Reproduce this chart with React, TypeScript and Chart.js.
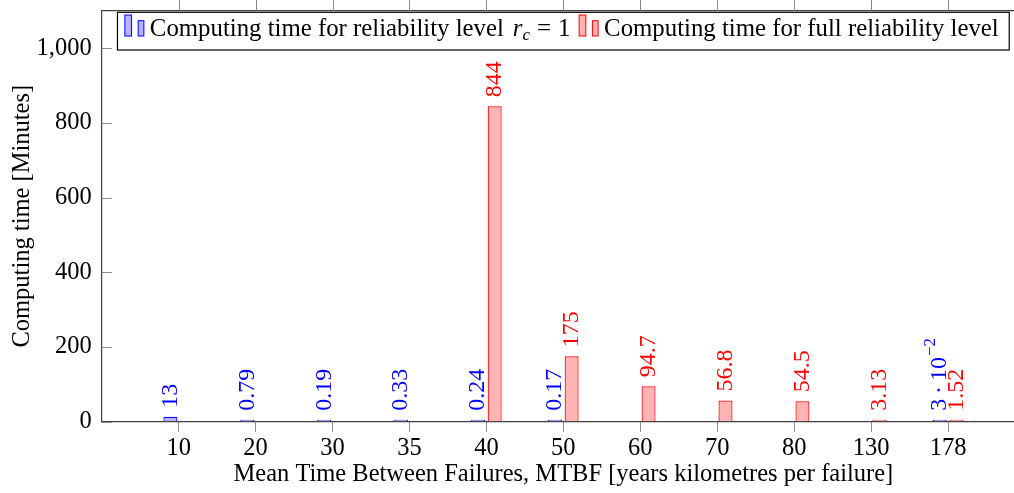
import React, { useEffect, useRef } from 'react';
import { Chart, registerables } from 'chart.js';

Chart.register(...registerables);

// ---- data ----
const categories = ['10', '20', '30', '35', '40', '50', '60', '70', '80', '130', '178'];
const rc1Values: (number | null)[] = [13, 0.79, 0.19, 0.33, 0.24, 0.17, null, null, null, null, 0.03];
const fullValues: (number | null)[] = [null, null, null, null, 844, 175, 94.7, 56.8, 54.5, 3.13, 1.52];
const rc1Labels = ['13', '0.79', '0.19', '0.33', '0.24', '0.17', '', '', '', '', '3\u2009·\u200910^\u22122'];
const fullLabels = ['', '', '', '', '844', '175', '94.7', '56.8', '54.5', '3.13', '1.52'];
const yTicks = [0, 200, 400, 600, 800, 1000];
const seriesNames = ['Computing time for reliability level', 'Computing time for full reliability level'];
const xTitle = 'Mean Time Between Failures, MTBF [years kilometres per failure]';
const yTitle = 'Computing time [Minutes]';

const FAMILY = '"Liberation Serif", "Times New Roman", serif';
const FS = 24.5;
const BLUE = 'rgb(0,0,255)';
const BLUE_FILL = 'rgb(179,179,255)';
const RED = 'rgb(255,0,0)';
const RED_FILL = 'rgb(255,179,179)';
const AXIS = '#404040';
const TICK = '#8a8a8a';

const barLabelPlugin = {
  id: 'barLabels',
  afterDatasetsDraw(chart: any) {
    const ctx = chart.ctx as CanvasRenderingContext2D;
    const sets = [
      { labels: rc1Labels, color: BLUE },
      { labels: fullLabels, color: RED },
    ];
    sets.forEach((s, di) => {
      const meta = chart.getDatasetMeta(di);
      const values = chart.data.datasets[di].data;
      meta.data.forEach((el: any, i: number) => {
        const text = s.labels[i];
        const v = values[i] && values[i].y;
        if (!text || v == null) return;
        const { x, y } = el.getProps(['x', 'y'], true);
        ctx.save();
        ctx.translate(x, y - 9);
        ctx.rotate(-Math.PI / 2);
        ctx.fillStyle = s.color;
        ctx.font = `24px ${FAMILY}`;
        ctx.textBaseline = 'middle';
        ctx.textAlign = 'left';
        const parts = text.split('^');
        ctx.fillText(parts[0], 0, 0);
        if (parts[1]) {
          const w = ctx.measureText(parts[0]).width;
          ctx.font = `17px ${FAMILY}`;
          ctx.fillText(parts[1], w + 1, -9);
        }
        ctx.restore();
      });
    });
  },
};

const axisDecorPlugin = {
  id: 'axisDecor',
  afterDraw(chart: any) {
    const { ctx, chartArea, scales } = chart;
    ctx.save();
    ctx.strokeStyle = AXIS;
    ctx.lineWidth = 1.2;
    ctx.beginPath();
    ctx.moveTo(chartArea.left, chartArea.top);
    ctx.lineTo(chartArea.right, chartArea.top);
    ctx.lineTo(chartArea.right, chartArea.bottom);
    ctx.stroke();
    ctx.strokeStyle = TICK;
    ctx.lineWidth = 1;
    ctx.beginPath();
    scales.x.ticks.forEach((t: any) => {
      const px = Math.round(scales.x.getPixelForValue(t.value)) + 0.5;
      ctx.moveTo(px, chartArea.top - 11);
      ctx.lineTo(px, chartArea.top);
    });
    scales.y.ticks.forEach((t: any) => {
      const py = Math.round(scales.y.getPixelForValue(t.value)) + 0.5;
      ctx.moveTo(chartArea.left, py);
      ctx.lineTo(chartArea.left + 10, py);
      ctx.moveTo(chartArea.right - 10, py);
      ctx.lineTo(chartArea.right, py);
    });
    ctx.stroke();
    ctx.restore();
  },
};

function drawIcon(ctx: CanvasRenderingContext2D, x: number, base: number, fill: string, stroke: string) {
  ctx.fillStyle = fill;
  ctx.strokeStyle = stroke;
  ctx.lineWidth = 1;
  ctx.fillRect(x, base - 21, 6.7, 21);
  ctx.strokeRect(x, base - 21, 6.7, 21);
  ctx.fillRect(x + 13.3, base - 15.3, 5.7, 15.3);
  ctx.strokeRect(x + 13.3, base - 15.3, 5.7, 15.3);
}

const legendPlugin = {
  id: 'texLegend',
  afterDraw(chart: any) {
    const { ctx, chartArea } = chart;
    const LFS = 24.8;
    const font = `${LFS}px ${FAMILY}`;
    const italic = `italic ${LFS}px ${FAMILY}`;
    const subFont = `italic 17px ${FAMILY}`;
    ctx.save();
    ctx.font = font;
    const t1 = seriesNames[0];
    const w1 = ctx.measureText(t1).width;
    const weq = ctx.measureText('=').width;
    const wOne = ctx.measureText('1').width;
    ctx.font = italic;
    const wr = ctx.measureText('r').width;
    ctx.font = subFont;
    const wc = ctx.measureText('c').width;
    ctx.font = font;
    const preGap = 9;
    const eqGap = 7;
    const mathW = preGap + wr + wc + eqGap + weq + eqGap + wOne;
    const t2 = seriesNames[1];
    const w2 = ctx.measureText(t2).width;
    const padL = 7.4, iconW = 19, iconGap = 6, itemGap = 8.7, padR = 10.5;
    const total = padL + iconW + iconGap + w1 + mathW + itemGap + iconW + iconGap + w2 + padR;
    const cx = (chartArea.left + chartArea.right) / 2;
    const left = cx - total / 2;
    const top = chartArea.top + 1.6;
    const h = 37.7;
    ctx.fillStyle = '#fff';
    ctx.fillRect(left, top, total, h);
    ctx.strokeStyle = '#000';
    ctx.lineWidth = 1.2;
    ctx.strokeRect(left, top, total, h);
    const base = top + 23.7;
    let x = left + padL;
    drawIcon(ctx, x, base, BLUE_FILL, BLUE);
    x += iconW + iconGap;
    ctx.fillStyle = '#000';
    ctx.textBaseline = 'alphabetic';
    ctx.textAlign = 'left';
    ctx.font = font;
    ctx.fillText(t1, x, base);
    x += w1 + preGap;
    ctx.font = italic;
    ctx.fillText('r', x, base);
    x += wr;
    ctx.font = subFont;
    ctx.fillText('c', x, base + 4);
    x += wc + eqGap;
    ctx.font = font;
    ctx.fillText('=', x, base);
    x += weq + eqGap;
    ctx.fillText('1', x, base);
    x += wOne + itemGap;
    drawIcon(ctx, x, base, RED_FILL, RED);
    x += iconW + iconGap;
    ctx.fillStyle = '#000';
    ctx.fillText(t2, x, base);
    ctx.restore();
  },
};

export default function App() {
  const ref = useRef<HTMLCanvasElement>(null);
  useEffect(() => {
    const canvas = ref.current;
    if (!canvas) return;
    Chart.defaults.font.family = FAMILY;
    const chart = new Chart(canvas, {
      type: 'bar',
      data: {
        datasets: [
          {
            label: seriesNames[0],
            data: rc1Values.map((v, i) => ({ x: i, y: v })) as any,
            backgroundColor: BLUE_FILL,
            borderColor: BLUE,
            borderWidth: 1.2,
            minBarLength: 2,
          },
          {
            label: seriesNames[1],
            data: fullValues.map((v, i) => ({ x: i, y: v })) as any,
            backgroundColor: RED_FILL,
            borderColor: RED,
            borderWidth: 1.2,
            minBarLength: 2,
          },
        ],
      },
      options: {
        animation: false,
        responsive: false,
        maintainAspectRatio: false,
        layout: { padding: { top: 10.7, right: 1, left: 0, bottom: 0 } },
        datasets: { bar: { categoryPercentage: 0.43, barPercentage: 0.845 } },
        plugins: { legend: { display: false }, tooltip: { enabled: false } },
        scales: {
          x: {
            type: 'linear',
            min: -1,
            max: 11,
            offset: false,
            afterBuildTicks: (s: any) => {
              s.ticks = categories.map((_, i) => ({ value: i }));
            },
            afterFit: (s: any) => {
              s.height = 71.3;
              s.paddingLeft = 0;
              s.paddingRight = 0;
              s.paddingTop = 0;
              s.paddingBottom = 0;
            },
            grid: { display: true, drawOnChartArea: false, drawTicks: true, tickLength: 10, color: TICK, offset: false },
            border: { display: true, color: AXIS, width: 1.2 },
            ticks: {
              callback: (v: any) => categories[v] ?? '',
              font: { size: FS },
              color: '#000',
              padding: 2.3,
              maxRotation: 0,
              autoSkip: false,
            },
            title: { display: true, text: xTitle, font: { size: FS }, color: '#000', padding: { top: 0, bottom: 3.6 } },
          },
          y: {
            min: 0,
            max: 1100,
            afterBuildTicks: (s: any) => {
              s.ticks = yTicks.map((v) => ({ value: v }));
            },
            afterFit: (s: any) => {
              s.width = 101.7;
              s.paddingLeft = 0;
              s.paddingRight = 0;
              s.paddingTop = 0;
              s.paddingBottom = 0;
            },
            grid: { display: true, drawOnChartArea: false, drawTicks: false },
            border: { display: true, color: AXIS, width: 1.2 },
            ticks: {
              callback: (v: any) => Number(v).toLocaleString('en-US'),
              font: { size: FS },
              color: '#000',
              padding: 10,
            },
            title: { display: true, text: yTitle, font: { size: FS }, color: '#000', padding: { top: 7.5, bottom: 0 } },
          },
        },
      } as any,
      plugins: [barLabelPlugin, axisDecorPlugin, legendPlugin],
    });
    return () => chart.destroy();
  }, []);

  return (
    <div style={{ position: 'fixed', left: 0, top: 0, width: 1014, height: 493, overflow: 'hidden', background: '#fff' }}>
      <canvas ref={ref} width={1026} height={493} style={{ display: 'block', width: 1026, height: 493 }} />
    </div>
  );
}
